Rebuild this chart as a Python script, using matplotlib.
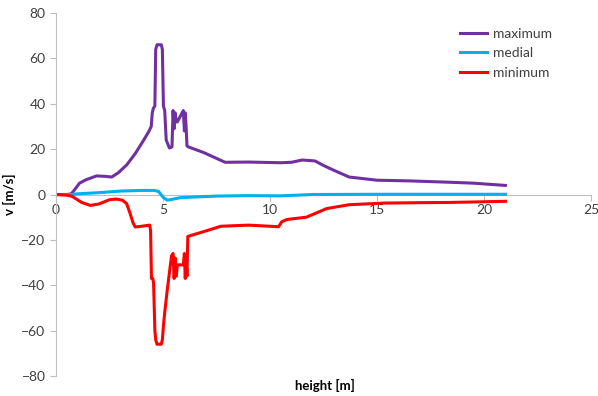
import matplotlib
matplotlib.use("Agg")
import matplotlib.pyplot as plt

# ---- data ----
max_x = [0, 0.5, 0.72, 0.9, 1.1, 1.4, 1.9, 2.3, 2.6, 2.9, 3.3, 3.7, 4.1, 4.35, 4.45, 4.5,
         4.55, 4.62, 4.66, 4.72, 4.92, 4.97, 5.02, 5.08, 5.15, 5.3, 5.42, 5.47, 5.52, 5.57,
         5.62, 5.67, 5.95, 6.0, 6.04, 6.08, 6.12, 6.18, 6.9, 7.9, 9.0, 10.5, 11.0, 11.5,
         12.1, 12.5, 13.0, 13.7, 15.0, 16.5, 18.4, 19.5, 21.0]
max_y = [0, 0, 0.3, 2.5, 5, 6.5, 8.2, 8, 7.7, 9.5, 13, 18, 24, 28, 30, 36,
         38, 39, 64, 66, 66, 64, 39, 37, 24, 20.5, 21, 37, 29, 36,
         32, 32, 37, 28, 36, 30, 21.5, 21, 18.5, 14.2, 14.3, 14, 14.2, 15.2,
         14.8, 12.8, 10.6, 7.7, 6.3, 6.0, 5.4, 5.0, 4.0]

med_x = [0, 0.7, 1.0, 2.0, 3.0, 4.0, 4.6, 4.8, 5.0, 5.2, 5.4, 5.8, 6.5, 7.5, 9.0, 10.5, 12.0, 15.0, 21.0]
med_y = [0, 0, 0.3, 0.8, 1.5, 1.8, 1.8, 1.3, -1.2, -2.5, -2.2, -1.4, -1.1, -0.7, -0.5, -0.6, 0, 0.1, 0.1]

min_x = [0, 0.5, 0.75, 1.2, 1.6, 2.0, 2.5, 2.8, 3.1, 3.3, 3.45, 3.6, 3.7, 4.0, 4.38, 4.42,
         4.46, 4.52, 4.56, 4.62, 4.66, 4.72, 4.92, 4.97, 5.02, 5.08, 5.2, 5.4, 5.47, 5.52,
         5.57, 5.62, 5.67, 5.95, 6.0, 6.04, 6.08, 6.12, 6.16, 6.5, 7.2, 7.7, 9.0, 10.4,
         10.55, 10.8, 11.7, 12.2, 12.65, 13.7, 15.3, 17.0, 18.4, 19.5, 21.0]
min_y = [0, -0.3, -0.8, -3.5, -4.8, -4.2, -2.3, -2.0, -2.5, -4, -8, -12.5, -14.3, -14, -13.5, -16,
         -37, -37, -39, -60, -64, -66, -66, -64, -58, -52, -42, -27, -26, -37,
         -28, -36, -31, -31, -26, -37, -28, -36, -18.5, -17.5, -15.5, -14, -13.5, -14.2,
         -12, -11, -10, -8, -6.2, -4.5, -3.8, -3.6, -3.5, -3.3, -3.0]

series_labels = ["maximum", "medial", "minimum"]
x_ticks = [0, 5, 10, 15, 20, 25]
y_ticks = [-80, -60, -40, -20, 0, 20, 40, 60, 80]

plt.rcParams['font.family'] = ['Lato', 'DejaVu Sans']

fig = plt.figure(figsize=(5.98, 3.96), dpi=100)
ax = fig.add_axes([56/598, 20/396, (591-56)/598, 363/396])

lw = 2.2
ax.plot(max_x, max_y, color="#7030A0", lw=lw, label=series_labels[0], solid_joinstyle="round")
ax.plot(med_x, med_y, color="#00B0F0", lw=lw, label=series_labels[1], solid_joinstyle="round")
ax.plot(min_x, min_y, color="#FF0000", lw=lw, label=series_labels[2], solid_joinstyle="round")

ax.set_xlim(0, 25)
ax.set_ylim(-80, 80)
ax.set_xticks(x_ticks)
ax.set_yticks(y_ticks)

for s in ["top", "right"]:
    ax.spines[s].set_visible(False)
ax.spines["bottom"].set_position(("data", 0))
ax.spines["bottom"].set_zorder(0)
ax.spines["bottom"].set_color("#BFBFBF")
ax.spines["left"].set_color("#BFBFBF")
ax.tick_params(axis="both", colors="#BFBFBF", labelcolor="#404040", labelsize=10, length=4, width=0.8)
ax.tick_params(axis="x", direction="out", pad=3)

ax.set_ylabel("v [m/s]", fontsize=9.5, fontweight="bold", color="#000000", labelpad=4)
fig.text(325/598, 1 - 385/396, "height [m]", fontsize=9.5, fontweight="bold", ha="center", va="center")

leg = ax.legend(loc="upper left", bbox_to_anchor=(448/598, 1 - 15/396), bbox_transform=fig.transFigure,
                frameon=False, fontsize=10, handlelength=1.9, handletextpad=0.45, labelspacing=0.55)
for t in leg.get_texts():
    t.set_color("#404040")

fig.savefig("out.png", dpi=100)
